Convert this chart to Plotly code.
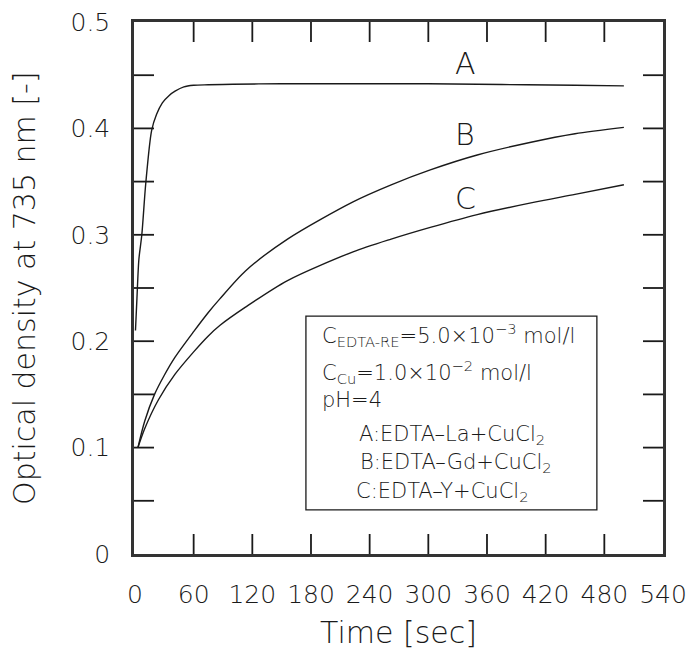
import plotly.graph_objects as go

# ---- data ----
t_A = [0.5, 2, 4, 7, 11, 17, 22, 28, 35, 41, 50, 60, 75, 100, 150, 200, 250, 300, 350, 400, 450, 500]
v_A = [0.210, 0.240, 0.277, 0.300, 0.348, 0.398, 0.413, 0.424, 0.431, 0.435, 0.439, 0.4405, 0.441,
       0.4415, 0.442, 0.442, 0.442, 0.442, 0.4415, 0.441, 0.4405, 0.440]

t_B = [3, 10, 20, 30, 41, 60, 75, 87, 113, 156, 223, 262, 302, 350, 405, 450, 500]
v_B = [0.100, 0.125, 0.150, 0.168, 0.185, 0.209, 0.227, 0.240, 0.266, 0.296, 0.331, 0.347,
       0.361, 0.375, 0.387, 0.395, 0.401]

t_C = [3, 10, 24, 41, 60, 75, 87, 113, 156, 223, 262, 302, 350, 405, 450, 500]
v_C = [0.100, 0.118, 0.145, 0.169, 0.190, 0.205, 0.215, 0.232, 0.257, 0.284, 0.296, 0.307,
       0.319, 0.330, 0.338, 0.347]

x_ticks = [0, 60, 120, 180, 240, 300, 360, 420, 480, 540]
y_ticks = [0, 0.05, 0.1, 0.15, 0.2, 0.25, 0.3, 0.35, 0.4, 0.45, 0.5]
y_ticktext = ["0", "", "0.1", "", "0.2", "", "0.3", "", "0.4", "", "0.5"]

curve_labels = ["A", "B", "C"]
label_t = [338, 337, 338]
label_v = [0.461, 0.394, 0.334]

x_title = "Time [sec]"
y_title = "Optical density at 735 nm [-]"

box_lines = [
    "C<sub>EDTA-RE</sub>=5.0\u00d710<sup>\u22123</sup> mol/l",
    "C<sub>Cu</sub>=1.0\u00d710<sup>\u22122</sup> mol/l",
    "pH=4",
    "A:EDTA\u2013La+CuCl<sub>2</sub>",
    "B:EDTA\u2013Gd+CuCl<sub>2</sub>",
    "C:EDTA\u2013Y+CuCl<sub>2</sub>",
]

FONT = "DejaVu Sans, Liberation Sans, sans-serif"
INK = "#1a1a1a"
W = 300
X_RANGE = [-1, 540]
Y_RANGE = [0, 0.5]
TICKLEN = 20

fig = go.Figure()
for t, v in [(t_A, v_A), (t_B, v_B), (t_C, v_C)]:
    fig.add_trace(go.Scatter(x=t, y=v, mode="lines",
                             line=dict(color=INK, width=1.4, shape="spline", smoothing=0.8),
                             showlegend=False, hoverinfo="skip"))

for lab, tx, vy in zip(curve_labels, label_t, label_v):
    fig.add_annotation(x=tx, y=vy, xref="x", yref="y", text=lab, showarrow=False,
                       font=dict(family=FONT, size=30, color=INK, weight=W))

# inside tick marks on all four sides (pixel-sized, positioned by the axis scales)
tick_line = dict(color=INK, width=1.8)
for xv in x_ticks[1:-1]:
    for anchor, sign in [(0, 1), (1, -1)]:
        fig.add_shape(type="line", xref="x", yref="paper", x0=xv, x1=xv,
                      ysizemode="pixel", yanchor=anchor, y0=0, y1=sign * TICKLEN, line=tick_line)
for yv in y_ticks[1:-1]:
    for anchor, sign in [(0, 1), (1, -1)]:
        fig.add_shape(type="line", yref="y", xref="paper", y0=yv, y1=yv,
                      xsizemode="pixel", xanchor=anchor, x0=0, x1=sign * TICKLEN, line=tick_line)

# legend-like text box
box_x0, box_x1, box_y0, box_y1 = 0.325, 0.875, 0.083, 0.447
fig.add_shape(type="rect", xref="paper", yref="paper", x0=box_x0, x1=box_x1, y0=box_y0, y1=box_y1,
              line=dict(color=INK, width=1.3), fillcolor="white", layer="above")
line_x = [0.352, 0.352, 0.352, 0.4216, 0.4235, 0.416]
line_y = [0.412, 0.342, 0.289, 0.224, 0.171, 0.1165]
for txt, lx, ly in zip(box_lines, line_x, line_y):
    fig.add_annotation(x=lx, y=ly, xref="paper", yref="paper", text=txt, showarrow=False,
                       xanchor="left", yanchor="middle",
                       font=dict(family=FONT, size=21, color=INK, weight=W))

tickfont = dict(family=FONT, size=25, color=INK, weight=W)
titlefont = dict(family=FONT, size=30, color=INK, weight=W)

# axis titles as annotations for exact placement
fig.add_annotation(x=0.5, y=-0.147, xref="paper", yref="paper", text=x_title, showarrow=False,
                   xanchor="center", yanchor="middle", font=titlefont)
fig.add_annotation(x=-0.208, y=0.5, xref="paper", yref="paper", text=y_title, showarrow=False,
                   textangle=-90, xanchor="center", yanchor="middle", font=titlefont)

fig.update_layout(
    xaxis=dict(range=X_RANGE, tickvals=x_ticks, ticktext=[str(v) for v in x_ticks],
               ticks="", showline=True, linewidth=2.5, linecolor="#333333", mirror=True,
               showgrid=False, zeroline=False, automargin=False,
               ticklabelstandoff=16, tickfont=tickfont),
    yaxis=dict(range=Y_RANGE, tickvals=y_ticks, ticktext=y_ticktext,
               ticks="", showline=True, linewidth=2.5, linecolor="#333333", mirror=True,
               showgrid=False, zeroline=False, automargin=False,
               ticklabelstandoff=16, tickfont=tickfont),
    width=688, height=649,
    margin=dict(l=134, r=25, t=22, b=95),
    paper_bgcolor="white", plot_bgcolor="white",
    font=dict(family=FONT, color=INK),
)

fig.write_html("out.html")
